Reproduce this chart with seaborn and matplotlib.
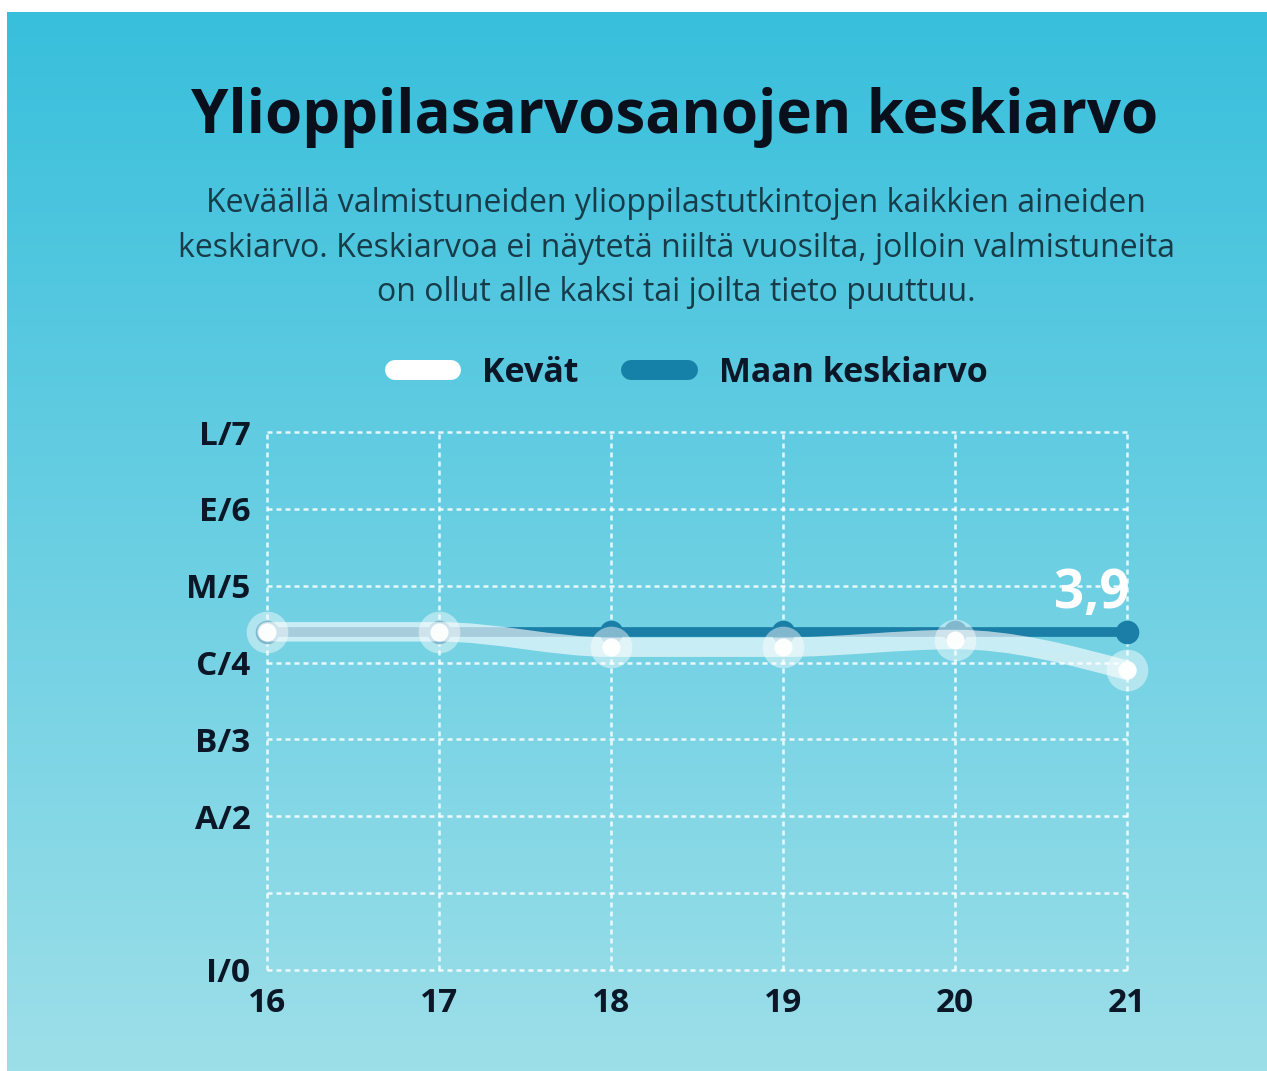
import numpy as np
import matplotlib
matplotlib.use("Agg")
import matplotlib.pyplot as plt
import seaborn as sns
from matplotlib.path import Path
from matplotlib.patches import PathPatch
from matplotlib.lines import Line2D

# data
years = [16, 17, 18, 19, 20, 21]
spring = [4.4, 4.4, 4.2, 4.2, 4.3, 3.9]
country = [4.4, 4.4, 4.4, 4.4, 4.4, 4.4]
grade_labels = ["I/0", "", "A/2", "B/3", "C/4", "M/5", "E/6", "L/7"]

sns.set_theme(style="white")
plt.rcParams["font.family"] = ["Open Sans", "DejaVu Sans"]

dark = "#0b1626"
navy_line = "#1a7ea6"

fig = plt.figure(figsize=(12.67, 10.71), dpi=100)
fig.patch.set_facecolor("white")

# gradient background
bg = fig.add_axes([7 / 1267, 0, 1 - 7 / 1267, 1 - 12 / 1071])
top = np.array([56, 191, 220]) / 255
bot = np.array([157, 223, 233]) / 255
t = np.linspace(0, 1, 256)[:, None]
grad = (top * (1 - t) + bot * t)[:, None, :]
bg.imshow(grad, aspect="auto", extent=[0, 1, 0, 1])
bg.set_axis_off()

ax = fig.add_axes([267 / 1267, 101 / 1071, 860 / 1267, 538 / 1071])
ax.patch.set_alpha(0)
ax.set_xlim(16, 21)
ax.set_ylim(0, 7)

# grid
ax.set_xticks(years)
ax.set_xticklabels([str(y) for y in years])
ax.set_yticks(range(8))
ax.set_yticklabels(grade_labels)
ax.grid(True, color="white", alpha=0.85, linewidth=1.8, linestyle=(0, (2.0, 1.6)))
for gl in ax.get_xgridlines() + ax.get_ygridlines():
    gl.set_clip_on(False)
for s in ax.spines.values():
    s.set_visible(False)
ax.tick_params(axis="both", length=0, labelsize=24, labelcolor=dark)
ax.tick_params(axis="y", pad=12)
ax.tick_params(axis="x", pad=12)
for lab in ax.get_xticklabels() + ax.get_yticklabels():
    lab.set_fontweight("bold")

# national average
sns.lineplot(x=years, y=country, ax=ax, color=navy_line, linewidth=7,
             marker="o", markersize=17, markeredgewidth=0, zorder=3,
             clip_on=False, legend=False)


# spring line drawn as a smooth band (monotone cubic, like d3 curveMonotoneX)
def smooth_path(xs, ys):
    x = np.asarray(xs, float)
    y = np.asarray(ys, float)
    h = np.diff(x)
    s = np.diff(y) / h
    n = len(x)
    tang = np.zeros(n)
    for k in range(1, n - 1):
        p = (s[k - 1] * h[k] + s[k] * h[k - 1]) / (h[k - 1] + h[k])
        tang[k] = (np.sign(s[k - 1]) + np.sign(s[k])) * min(abs(s[k - 1]), abs(s[k]), 0.5 * abs(p))
    tang[0] = (3 * s[0] - tang[1]) / 2
    tang[-1] = (3 * s[-1] - tang[-2]) / 2
    verts = [(x[0], y[0])]
    codes = [Path.MOVETO]
    for k in range(n - 1):
        dx = h[k] / 3
        verts += [(x[k] + dx, y[k] + dx * tang[k]),
                  (x[k + 1] - dx, y[k + 1] - dx * tang[k + 1]),
                  (x[k + 1], y[k + 1])]
        codes += [Path.CURVE4] * 3
    return Path(verts, codes)


ax.add_patch(PathPatch(smooth_path(years, spring), fill=False, edgecolor="white",
                       alpha=0.62, linewidth=14, capstyle="round",
                       joinstyle="round", zorder=4, clip_on=False))
sns.scatterplot(x=years, y=spring, ax=ax, s=900, color="white", alpha=0.45,
                linewidth=0, zorder=5, clip_on=False, legend=False)
sns.scatterplot(x=years, y=spring, ax=ax, s=170, color="white", alpha=0.95,
                linewidth=0, zorder=6, clip_on=False, legend=False)

ax.annotate(f"{spring[-1]:.1f}".replace(".", ","), xy=(years[-1], spring[-1]),
            xytext=(2, 55), textcoords="offset points", ha="right",
            va="center", fontsize=38, fontweight="bold", color="white",
            zorder=7)

# legend
handles = [Line2D([], [], color="white", linewidth=14.4, solid_capstyle="round"),
           Line2D([], [], color="#1580a8", linewidth=14.4, solid_capstyle="round")]
leg = fig.legend(handles, ["Kevät", "Maan keskiarvo"], loc="center",
                 bbox_to_anchor=(691 / 1267, 1 - 373 / 1071), ncol=2,
                 frameon=False, handlelength=1.67, handletextpad=0.9,
                 columnspacing=1.55, prop={"size": 24.5, "weight": "bold"})
for txt in leg.get_texts():
    txt.set_color(dark)

# titles
fig.text(675 / 1267, 1 - 118 / 1071, "Ylioppilasarvosanojen keskiarvo",
         ha="center", va="center", fontsize=43.2, fontweight="bold", color="#0a0f1c")
fig.text(676 / 1267, 1 - 248 / 1071,
         "Keväällä valmistuneiden ylioppilastutkintojen kaikkien aineiden\n"
         "keskiarvo. Keskiarvoa ei näytetä niiltä vuosilta, jolloin valmistuneita\n"
         "on ollut alle kaksi tai joilta tieto puuttuu.",
         ha="center", va="center", multialignment="center", fontsize=23,
         linespacing=1.46, color="#173b49")

fig.savefig("out.png", dpi=100)
